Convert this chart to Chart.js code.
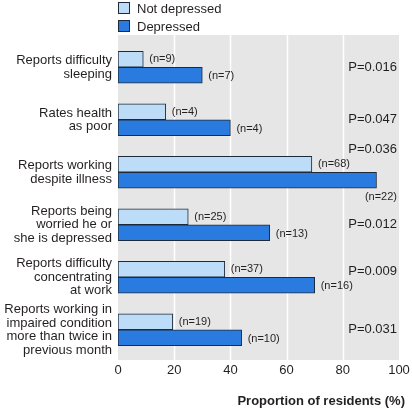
<!DOCTYPE html>
<html>
<head>
<meta charset="utf-8">
<script src="https://cdn.jsdelivr.net/npm/chart.js@4"></script>
<style>
  html, body { margin: 0; padding: 0; background: #fff; }
  #wrap { width: 412px; height: 408px; }
</style>
</head>
<body>
<div id="wrap"><canvas id="chart" width="412" height="408"></canvas></div>
<script>
// categories (y axis), shown as multi-line labels
const categories = [
  ['Reports difficulty', 'sleeping'],
  ['Rates health', 'as poor'],
  ['Reports working', 'despite illness'],
  ['Reports being', 'worried he or', 'she is depressed'],
  ['Reports difficulty', 'concentrating', 'at work'],
  ['Reports working in', 'impaired condition', 'more than twice in', 'previous month']
];
const notDepressed = [9, 17, 69, 25, 38, 19.5];
const depressed = [30, 40, 92, 54, 70, 44];
const nNotDepressed = ['(n=9)', '(n=4)', '(n=68)', '(n=25)', '(n=37)', '(n=19)'];
const nDepressed = ['(n=7)', '(n=4)', '(n=22)', '(n=13)', '(n=16)', '(n=10)'];
const pValues = ['P=0.016', 'P=0.047', 'P=0.036', 'P=0.012', 'P=0.009', 'P=0.031'];
const xTicks = [0, 20, 40, 60, 80, 100];

const FONT = 'Liberation Sans';
const TXT = '#231f20';
const LIGHT = '#bcdcf7';
const DARK = '#2a7be0';
const EDGE = '#1e2a3a';

// grey panel + white gridlines, a bit taller than the chart area
const panel = {
  id: 'panel',
  beforeDatasetsDraw(chart) {
    const { ctx, chartArea: a, scales: { x } } = chart;
    const top = a.top - 6, bottom = a.bottom + 4;
    ctx.save();
    ctx.fillStyle = '#e6e6e6';
    ctx.fillRect(a.left, top, a.right - a.left, bottom - top);
    ctx.strokeStyle = '#ffffff';
    ctx.lineWidth = 1.5;
    xTicks.slice(1, -1).forEach(v => {
      const px = Math.round(x.getPixelForValue(v)) + 0.5;
      ctx.beginPath();
      ctx.moveTo(px, top);
      ctx.lineTo(px, bottom);
      ctx.stroke();
    });
    ctx.restore();
  }
};

// legend, n labels, p values, axis title
const notes = {
  id: 'notes',
  afterDraw(chart) {
    const { ctx, scales: { y } } = chart;
    ctx.save();
    ctx.fillStyle = TXT;
    ctx.textBaseline = 'middle';

    // legend
    ctx.font = '13px "' + FONT + '"';
    [['Not depressed', LIGHT, 8], ['Depressed', DARK, 26]].forEach(([t, c, cy]) => {
      ctx.fillStyle = c;
      ctx.fillRect(118.5, cy - 5.5, 11, 11);
      ctx.strokeStyle = EDGE;
      ctx.lineWidth = 1;
      ctx.strokeRect(118.5, cy - 5.5, 11, 11);
      ctx.fillStyle = TXT;
      ctx.textAlign = 'left';
      ctx.fillText(t, 137, cy + 1);
    });

    // n labels
    ctx.font = '11px "' + FONT + '"';
    const m0 = chart.getDatasetMeta(0), m1 = chart.getDatasetMeta(1);
    categories.forEach((c, i) => {
      const b0 = m0.data[i], b1 = m1.data[i];
      ctx.textAlign = 'left';
      ctx.fillText(nNotDepressed[i], b0.x + 6, b0.y);
      if (i === 2) {
        ctx.textAlign = 'right';
        ctx.fillText(nDepressed[i], 397, b1.y + 17);
      } else {
        ctx.fillText(nDepressed[i], b1.x + 6, b1.y + 1);
      }
    });

    // p values
    ctx.font = '13px "' + FONT + '"';
    ctx.textAlign = 'right';
    const pShift = [0, 0, -23, 0, -6, 0];
    pValues.forEach((p, i) => {
      ctx.fillText(p, 397, y.getPixelForValue(i) + pShift[i]);
    });

    // axis title
    ctx.font = 'bold 13px "' + FONT + '"';
    ctx.fillText('Proportion of residents (%)', 405, 401);
    ctx.restore();
  }
};

new Chart(document.getElementById('chart'), {
  type: 'bar',
  data: {
    labels: categories,
    datasets: [
      { label: 'Not depressed', data: notDepressed, backgroundColor: LIGHT, borderColor: EDGE, borderWidth: 1, borderSkipped: false },
      { label: 'Depressed', data: depressed, backgroundColor: DARK, borderColor: EDGE, borderWidth: 1, borderSkipped: false }
    ]
  },
  options: {
    indexAxis: 'y',
    responsive: false,
    animation: false,
    barThickness: 16,
    layout: { padding: { top: 41, right: 13, bottom: 0, left: 0 } },
    plugins: {
      legend: { display: false },
      tooltip: { enabled: false }
    },
    scales: {
      x: {
        min: 0, max: 100,
        afterBuildTicks: s => { s.ticks = xTicks.map(v => ({ value: v })); },
        afterFit: s => { s.height = 52; s.paddingLeft = 0; s.paddingRight = 0; },
        grid: { display: false, drawTicks: false },
        border: { display: false },
        ticks: { color: TXT, font: { family: FONT, size: 13 }, padding: 7 }
      },
      y: {
        afterFit: s => { s.width = 118; },
        grid: { display: false, drawTicks: false },
        border: { display: false },
        ticks: { color: TXT, autoSkip: false, font: { family: FONT, size: 13, lineHeight: 1.05 }, padding: 6 }
      }
    }
  },
  plugins: [panel, notes]
});
</script>
</body>
</html>
